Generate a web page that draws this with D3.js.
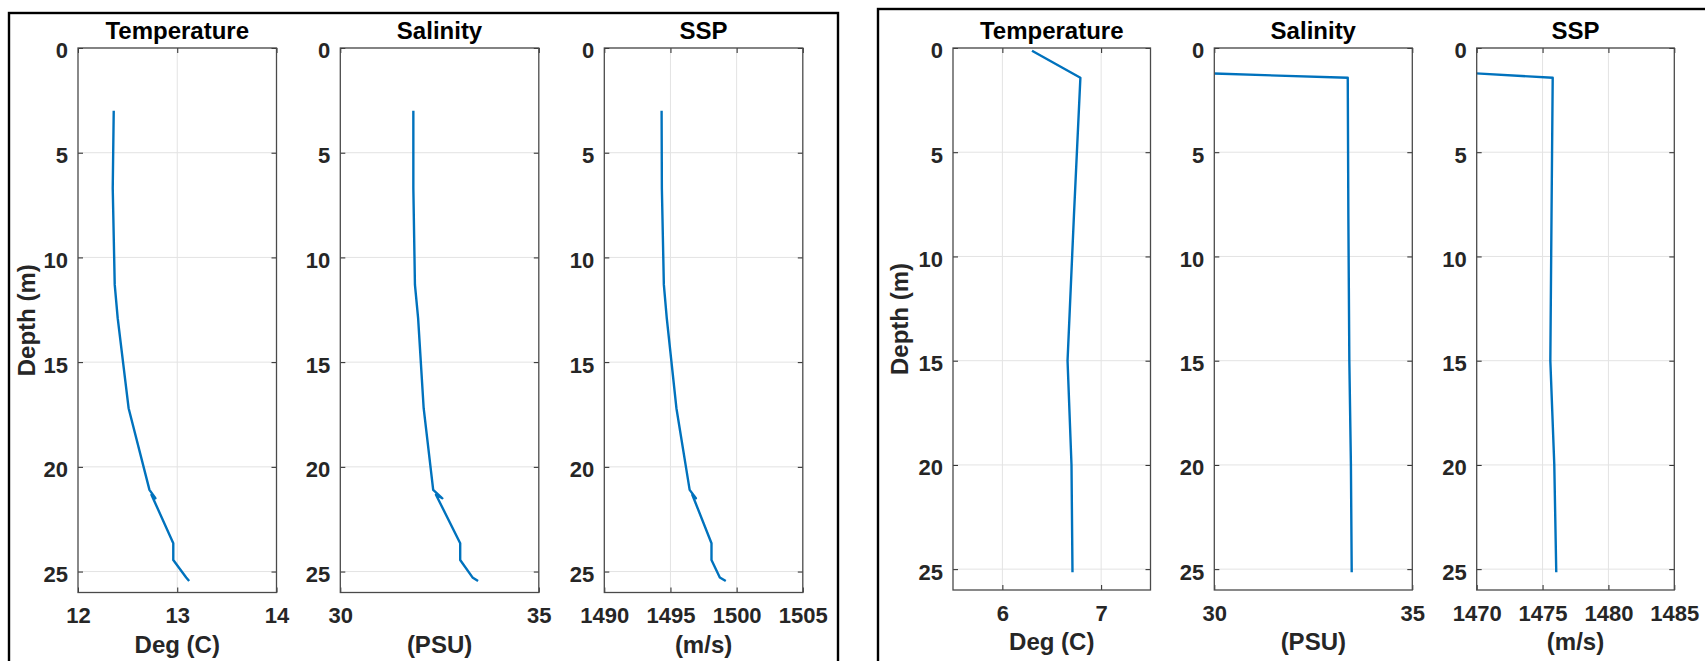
<!DOCTYPE html>
<html>
<head>
<meta charset="utf-8">
<script src="https://cdn.jsdelivr.net/npm/d3@7"></script>
<style>
  body { margin: 0; background: #fff; }
  svg text { font-family: "Liberation Sans", Arial, Helvetica, sans-serif; font-weight: bold; }
</style>
</head>
<body>
<svg id="chart" width="1705" height="661"></svg>
<script>
// cast 1 (left figure)
const depth1 = [3.0, 6.7, 11.3, 12.9, 17.2, 21.1, 21.5, 21.33, 23.65, 24.45, 25.28, 25.45]
const temp1  = [12.36, 12.35, 12.37, 12.40, 12.51, 12.72, 12.78, 12.74, 12.96, 12.96, 13.09, 13.12]
const sal1   = [31.84, 31.84, 31.88, 31.96, 32.10, 32.34, 32.57, 32.41, 33.02, 33.02, 33.33, 33.47]
const ssp1   = [1494.33, 1494.35, 1494.5, 1494.72, 1495.45, 1496.45, 1496.92, 1496.65, 1498.1, 1498.1, 1498.73, 1499.18]

// cast 2 (right figure)
const depth2 = [0.13, 1.43, 8, 15, 20, 25.15]
const temp2  = [6.30, 6.79, 6.725, 6.66, 6.70, 6.71]
const sal2   = [11.9, 33.37, 33.385, 33.41, 33.45, 33.47]
const ssp2   = [1440.5, 1475.77, 1475.68, 1475.59, 1475.89, 1476.04]

// axes
const depthDomain = [0, 26]
const depthTicks  = [0, 5, 10, 15, 20, 25]
const tempDomain1 = [12, 14], tempTicks1 = [12, 13, 14]
const salDomain   = [30, 35], salTicks   = [30, 35]
const sspDomain1  = [1490, 1505], sspTicks1 = [1490, 1495, 1500, 1505]
const tempDomain2 = [5.5, 7.5], tempTicks2 = [6, 7]
const sspDomain2  = [1470, 1485], sspTicks2 = [1470, 1475, 1480, 1485]

const titles  = ['Temperature', 'Salinity', 'SSP']
const xLabels = ['Deg (C)', '(PSU)', '(m/s)']
const yLabel  = 'Depth (m)'

const svg = d3.select('#chart')
const blue = '#0072bd', ink = '#262626'
const fmt = d => String(d)

// figure frames
svg.append('rect').attr('x', 9).attr('y', 13).attr('width', 829).attr('height', 700)
    .attr('fill', 'none').attr('stroke', '#000').attr('stroke-width', 2.4)
svg.append('rect').attr('x', 878).attr('y', 9).attr('width', 900).attr('height', 700)
    .attr('fill', 'none').attr('stroke', '#000').attr('stroke-width', 2.4)

let clipId = 0

function panel(left, top, width, bottom, xDomain, xTicks, depth, vals, idx, yLabX) {
  const x = d3.scaleLinear().domain(xDomain).range([left, left + width]),
        y = d3.scaleLinear().domain(depthDomain).range([top, bottom]),
        g = svg.append('g')

  // grid
  g.selectAll('.hg').data(depthTicks).enter().append('line')
      .attr('x1', left).attr('x2', left + width)
      .attr('y1', d => y(d)).attr('y2', d => y(d))
      .attr('stroke', '#e3e3e3').attr('stroke-width', 1)
  g.selectAll('.vg').data(xTicks.filter(t => t > xDomain[0] && t < xDomain[1])).enter().append('line')
      .attr('x1', d => x(d)).attr('x2', d => x(d))
      .attr('y1', top).attr('y2', bottom)
      .attr('stroke', '#e3e3e3').attr('stroke-width', 1)

  // data line, clipped to the axes box
  const id = 'clip' + (clipId++)
  svg.append('clipPath').attr('id', id).append('rect')
      .attr('x', left).attr('y', top).attr('width', width).attr('height', bottom - top)
  const line = d3.line().x(d => x(d[1])).y(d => y(d[0]))
  g.append('path')
      .datum(depth.map((d, i) => [d, vals[i]]))
      .attr('clip-path', 'url(#' + id + ')')
      .attr('d', line)
      .attr('fill', 'none').attr('stroke', blue).attr('stroke-width', 2.4)
      .attr('stroke-linejoin', 'round')

  // axes, ticks pointing inward
  const yl = g.append('g').attr('transform', 'translate(' + left + ',0)')
      .call(d3.axisLeft(y).tickValues(depthTicks).tickFormat(fmt).tickSize(-5).tickPadding(10))
  yl.selectAll('text').attr('dy', '0.45em')
  g.append('g').attr('transform', 'translate(' + (left + width) + ',0)')
      .call(d3.axisRight(y).tickValues(depthTicks).tickSize(-5).tickFormat(''))
  g.append('g').attr('transform', 'translate(0,' + bottom + ')')
      .call(d3.axisBottom(x).tickValues(xTicks).tickFormat(fmt).tickSize(-5).tickPadding(15))
  g.append('g').attr('transform', 'translate(0,' + top + ')')
      .call(d3.axisTop(x).tickValues(xTicks).tickSize(-5).tickFormat(''))

  g.selectAll('.domain').remove()
  g.selectAll('.tick line').attr('stroke', ink).attr('stroke-width', 1)
  g.selectAll('.tick text').attr('fill', ink).attr('font-size', 22)
      .attr('font-family', '"Liberation Sans", Arial, sans-serif')

  g.append('rect').attr('x', left).attr('y', top).attr('width', width).attr('height', bottom - top)
      .attr('fill', 'none').attr('stroke', '#4a4a4a').attr('stroke-width', 1.3)

  g.append('text').attr('x', left + width / 2).attr('y', 39)
      .attr('text-anchor', 'middle').attr('font-size', 24).attr('fill', '#000')
      .text(titles[idx])
  g.append('text').attr('x', left + width / 2).attr('y', bottom + 60)
      .attr('text-anchor', 'middle').attr('font-size', 24).attr('fill', ink)
      .text(xLabels[idx])

  if (yLabX != null) {
    g.append('text')
        .attr('transform', 'translate(' + yLabX + ',' + (top + bottom) / 2 + ') rotate(-90)')
        .attr('text-anchor', 'middle').attr('font-size', 24).attr('fill', ink)
        .text(yLabel)
  }
}

// left figure
panel(78, 48, 198.5, 592.5, tempDomain1, tempTicks1, depth1, temp1, 0, 35)
panel(340.3, 48, 198.5, 592.5, salDomain, salTicks, depth1, sal1, 1)
panel(604.3, 48, 198.5, 592.5, sspDomain1, sspTicks1, depth1, ssp1, 2)

// right figure
panel(953, 48, 197.5, 590, tempDomain2, tempTicks2, depth2, temp2, 0, 908)
panel(1214.3, 48, 198, 590, salDomain, salTicks, depth2, sal2, 1)
panel(1476.7, 48, 197.6, 590, sspDomain2, sspTicks2, depth2, ssp2, 2)
</script>
</body>
</html>
